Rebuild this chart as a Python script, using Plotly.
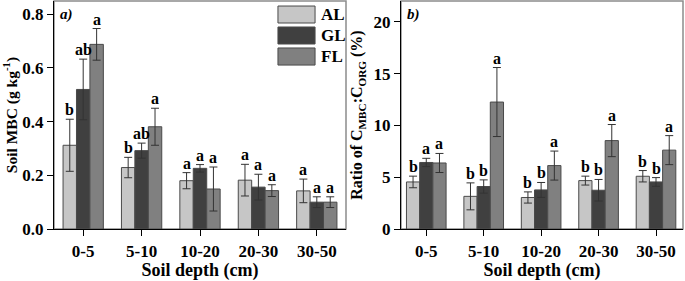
import plotly.graph_objects as go

depths = ["0-5", "5-10", "10-20", "20-30", "30-50"]
groups = ["AL", "GL", "FL"]
colors = {"AL": "#c6c6c6", "GL": "#404040", "FL": "#808080"}

# Panel a) Soil MBC (g kg-1)
mbc = {
    "AL": [0.312, 0.229, 0.180, 0.182, 0.142],
    "GL": [0.520, 0.292, 0.226, 0.156, 0.100],
    "FL": [0.688, 0.381, 0.149, 0.143, 0.100],
}
mbc_err = {
    "AL": [0.097, 0.038, 0.030, 0.059, 0.044],
    "GL": [0.113, 0.028, 0.014, 0.048, 0.020],
    "FL": [0.059, 0.069, 0.082, 0.022, 0.020],
}
mbc_letters = {
    "AL": ["b", "b", "a", "a", "a"],
    "GL": ["ab", "ab", "a", "a", "a"],
    "FL": ["a", "a", "a", "a", "a"],
}

# Panel b) Ratio of C_MBC:C_ORG (%)
ratio = {
    "AL": [4.54, 3.15, 3.04, 4.67, 5.09],
    "GL": [6.42, 4.10, 3.77, 3.74, 4.54],
    "FL": [6.37, 12.25, 6.12, 8.53, 7.61],
}
ratio_err = {
    "AL": [0.56, 1.30, 0.54, 0.43, 0.55],
    "GL": [0.40, 0.64, 0.72, 1.04, 0.42],
    "FL": [0.92, 3.33, 1.40, 1.55, 1.40],
}
ratio_letters = {
    "AL": ["b", "b", "b", "b", "b"],
    "GL": ["a", "b", "b", "b", "b"],
    "FL": ["a", "a", "a", "a", "a"],
}

FONT = "Liberation Serif"
BARGAP = 0.31
W, H = 685, 281

fig = go.Figure()

for vals, errs, axx, axy in [(mbc, mbc_err, "x", "y"), (ratio, ratio_err, "x2", "y2")]:
    for g in groups:
        fig.add_trace(go.Bar(
            x=depths, y=vals[g], name=g, xaxis=axx, yaxis=axy,
            marker=dict(color=colors[g], line=dict(color="#4a4a4a", width=1)),
            error_y=dict(type="data", array=errs[g], visible=True,
                         color="#333333", thickness=1, width=4),
            showlegend=False,
        ))

annotations = []
bw = (1 - BARGAP) / 3
for vals, errs, letters, axx, axy in [(mbc, mbc_err, mbc_letters, "x", "y"),
                                        (ratio, ratio_err, ratio_letters, "x2", "y2")]:
    for k, g in enumerate(groups):
        off = (k - 1) * bw
        for i, d in enumerate(depths):
            annotations.append(dict(
                x=i + off, y=vals[g][i] + errs[g][i], xref=axx, yref=axy,
                text=f"<b>{letters[g][i]}</b>", showarrow=False, yanchor="bottom", yshift=-1,
                font=dict(family=FONT, size=16, color="black"),
            ))

# panel labels
annotations.append(dict(x=0.015, y=0.985, xref="x domain", yref="y domain", text="<b><i>a)</i></b>",
                        showarrow=False, xanchor="left", yanchor="top",
                        font=dict(family=FONT, size=15, color="black")))
annotations.append(dict(x=0.015, y=0.985, xref="x2 domain", yref="y2 domain", text="<b><i>b)</i></b>",
                        showarrow=False, xanchor="left", yanchor="top",
                        font=dict(family=FONT, size=15, color="black")))

# custom legend
shapes = []
leg_y = [(0.978, 0.9035), (0.886, 0.8114), (0.794, 0.719)]
for (y1, y0), g in zip(leg_y, groups):
    shapes.append(dict(type="rect", xref="x domain", yref="y domain", x0=0.767, x1=0.894,
                       y0=y0, y1=y1, fillcolor=colors[g], line=dict(color="#4a4a4a", width=1)))
    annotations.append(dict(x=0.908, y=(y0 + y1) / 2, xref="x domain", yref="y domain",
                            text=f"<b>{g}</b>", showarrow=False, xanchor="left", yanchor="middle",
                            font=dict(family=FONT, size=17, color="black")))

# gray frames (top/right)
for axx, axy in [("x", "y"), ("x2", "y2")]:
    shapes.append(dict(type="rect", xref=f"{axx} domain", yref=f"{axy} domain", x0=0, x1=1, y0=0, y1=1,
                       line=dict(color="#8c8c8c", width=1.5), layer="below"))

axis_common = dict(showline=True, linecolor="black", linewidth=1.2, ticks="outside",
                   ticklen=6, tickcolor="black", tickwidth=1, showgrid=False, zeroline=False,
                   tickfont=dict(family=FONT, size=17, color="black"))

fig.update_layout(
    width=W, height=H,
    margin=dict(l=0, r=1, t=1, b=52),
    paper_bgcolor="white", plot_bgcolor="white",
    barmode="group", bargap=BARGAP, bargroupgap=0,
    annotations=annotations, shapes=shapes,
    xaxis=dict(domain=[54 / 684, 346 / 684], range=[-0.5, 4.5], type="category",
               title=dict(text="<b>Soil depth (cm)</b>", font=dict(family=FONT, size=18, color="black"), standoff=2),
               **axis_common),
    xaxis2=dict(domain=[401 / 684, 683 / 684], range=[-0.44, 4.47], type="category", anchor="y2",
                title=dict(text="<b>Soil depth (cm)</b>", font=dict(family=FONT, size=18, color="black"), standoff=2),
                **axis_common),
    yaxis=dict(range=[0, 0.8496], tickvals=[0, 0.2, 0.4, 0.6, 0.8], ticktext=["<b>0.0</b>", "<b>0.2</b>", "<b>0.4</b>", "<b>0.6</b>", "<b>0.8</b>"],
               title=dict(text="<b>Soil MBC (g kg<sup>-1</sup>)</b>", font=dict(family=FONT, size=15.5, color="black"), standoff=6),
               **axis_common),
    yaxis2=dict(range=[0, 22], tickvals=[0, 5, 10, 15, 20], ticktext=["<b>0</b>", "<b>5</b>", "<b>10</b>", "<b>15</b>", "<b>20</b>"],
                anchor="x2",
                title=dict(text="<b>Ratio of C<sub>MBC</sub>:C<sub>ORG</sub> (%)</b>", font=dict(family=FONT, size=16, color="black"), standoff=6),
                **axis_common),
)
fig.update_xaxes(tickangle=0, tickvals=depths, ticktext=[f"<b>{d}</b>" for d in depths])

fig.write_html("out.html", config={"displayModeBar": False},
               post_script="document.body.style.margin='0';document.body.style.padding='0';")
